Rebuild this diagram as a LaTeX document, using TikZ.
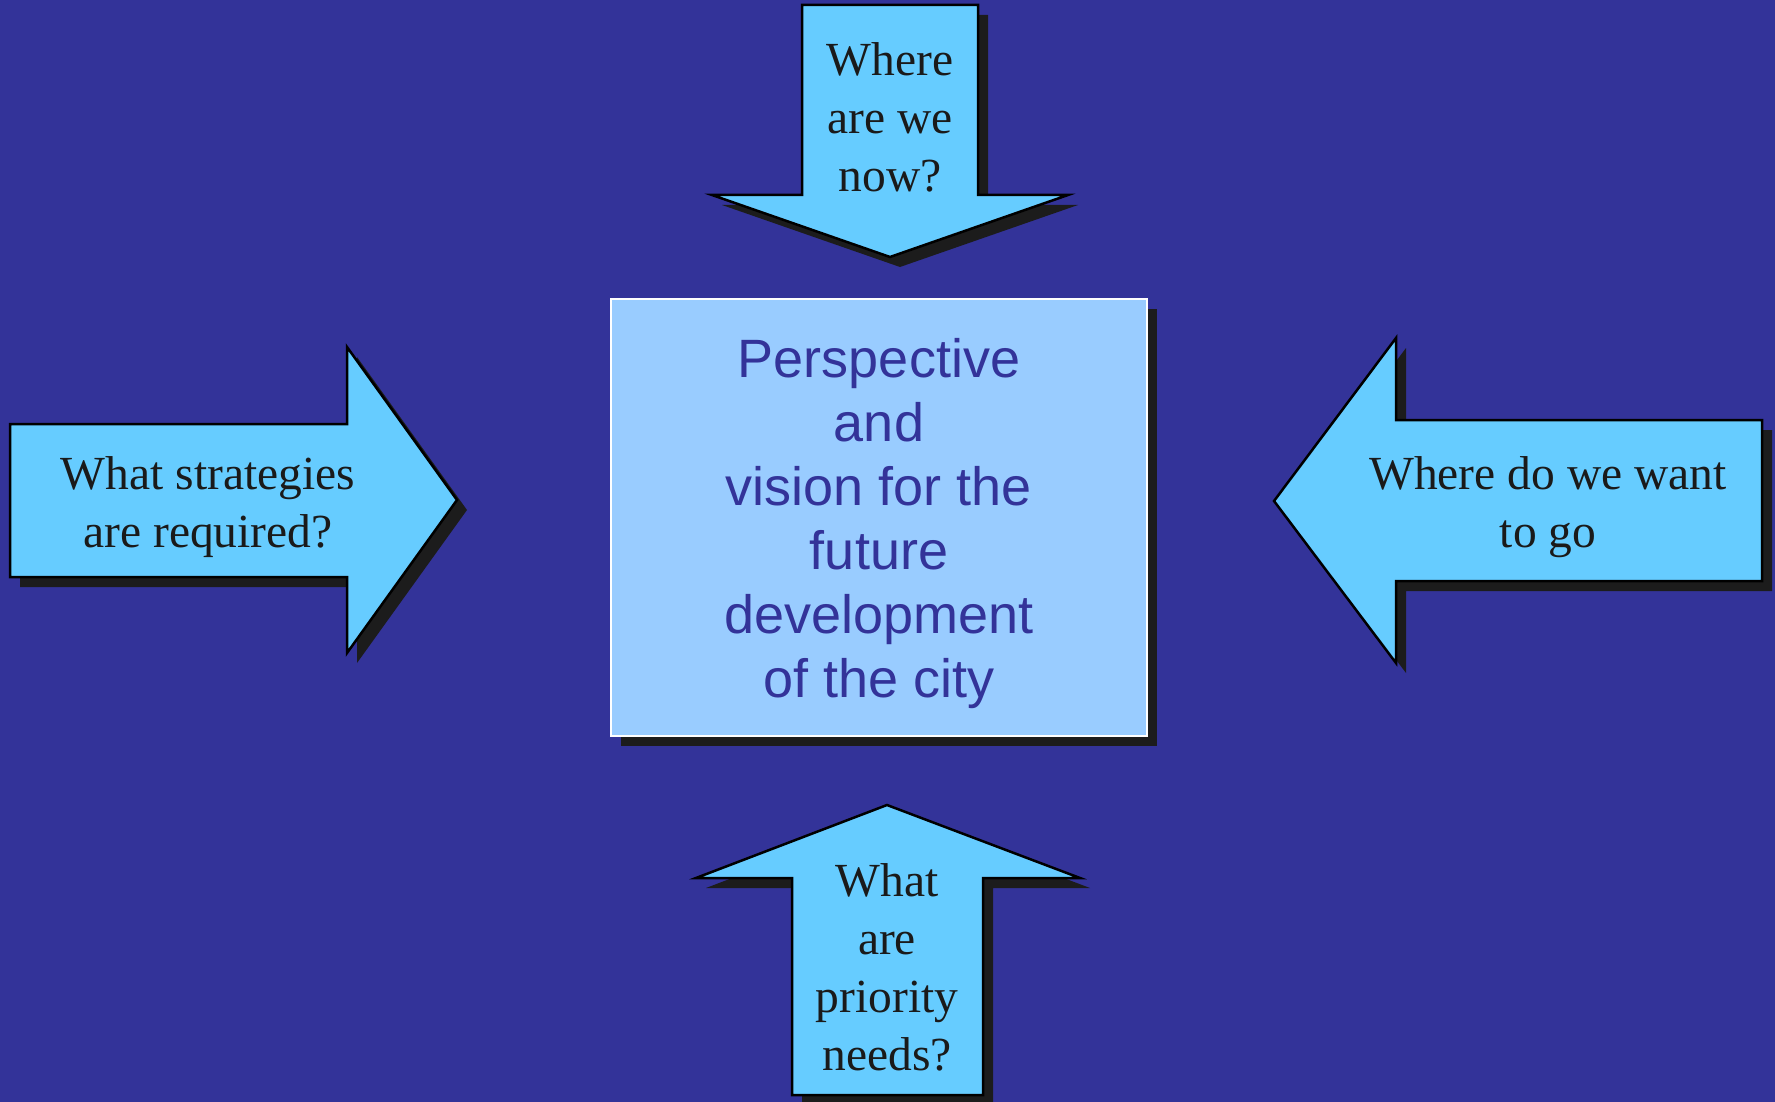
\documentclass[tikz,border=0pt]{standalone}
\usepackage{fontspec}
\setmainfont{Liberation Serif}
\newfontfamily\boxfont{Liberation Sans}
\definecolor{bgblue}{HTML}{333399}
\definecolor{arrowfill}{HTML}{66CCFF}
\definecolor{boxfill}{HTML}{99CCFF}
\definecolor{shadowc}{HTML}{1C1C1C}
\definecolor{txtc}{HTML}{1A1A1A}
\tikzset{
  arrowshape/.style={fill=arrowfill, draw=black, line width=2.5pt, line join=miter},
  arrowtext/.style={align=center, anchor=base, text=txtc, inner sep=0pt,
    font=\fontsize{47.5}{58}\selectfont},
  boxtext/.style={align=center, anchor=base, text=bgblue, inner sep=0pt,
    font=\boxfont\fontsize{54}{64}\selectfont},
}
\begin{document}
\begin{tikzpicture}[x=1pt,y=-1pt]
\fill[bgblue] (0,0) rectangle (1775,1102);
\useasboundingbox (0,0) rectangle (1775,1102);
% shadows
\begin{scope}[shift={(10,10)}]
  \fill[shadowc] (802,5) -- (978,5) -- (978,195) -- (1068,195) -- (890,257) -- (712,195) -- (802,195) -- cycle;
  \fill[shadowc] (10,424) -- (347,424) -- (347,347) -- (457,500) -- (347,653) -- (347,577) -- (10,577) -- cycle;
  \fill[shadowc] (1762,420) -- (1396,420) -- (1396,338) -- (1274,501) -- (1396,663) -- (1396,581) -- (1762,581) -- cycle;
  \fill[shadowc] (887,805) -- (1080,878) -- (983,878) -- (983,1095) -- (792,1095) -- (792,878) -- (696,878) -- cycle;
  \fill[shadowc] (611,299) rectangle (1147,736);
\end{scope}
% arrows
\draw[arrowshape] (802,5) -- (978,5) -- (978,195) -- (1068,195) -- (890,257) -- (712,195) -- (802,195) -- cycle;
\draw[arrowshape] (10,424) -- (347,424) -- (347,347) -- (457,500) -- (347,653) -- (347,577) -- (10,577) -- cycle;
\draw[arrowshape] (1762,420) -- (1396,420) -- (1396,338) -- (1274,501) -- (1396,663) -- (1396,581) -- (1762,581) -- cycle;
\draw[arrowshape] (887,805) -- (1080,878) -- (983,878) -- (983,1095) -- (792,1095) -- (792,878) -- (696,878) -- cycle;
% centre box
\draw[fill=boxfill, draw=white, line width=2pt] (611,299) rectangle (1147,736);
% texts (anchor base = baseline of the last line)
\node[boxtext] (vision) at (879,697) {Perspective\\and\\vision for the\\future\\development\\of the city};
\node[arrowtext] (now) at (890,192) {Where\\are we\\now?};
\node[arrowtext] (strat) at (208,547) {What strategies\\are required?};
\node[arrowtext] (want) at (1548,547) {Where do we want\\to go};
\node[arrowtext] (needs) at (887,1070) {What\\are\\priority\\needs?};
\end{tikzpicture}
\end{document}
